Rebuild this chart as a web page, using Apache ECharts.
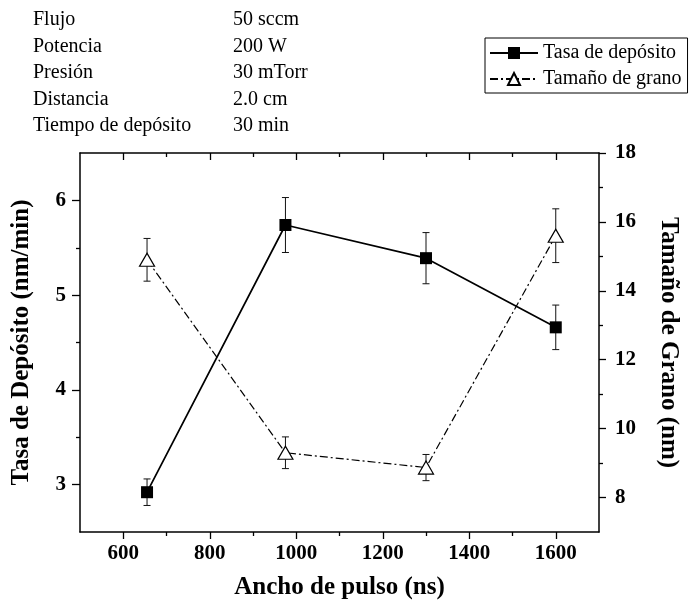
<!DOCTYPE html>
<html>
<head>
<meta charset="utf-8">
<script src="https://cdn.jsdelivr.net/npm/echarts@6/dist/echarts.min.js"></script>
<style>
  html, body { margin: 0; padding: 0; background: #fff; }
  #chart { width: 689px; height: 605px; }
</style>
</head>
<body>
<div id="chart"></div>
<script>
// Deposition conditions shown in the upper-left block
const paramNames = ['Flujo', 'Potencia', 'Presión', 'Distancia', 'Tiempo de depósito'];
const paramValues = ['50 sccm', '200 W', '30 mTorr', '2.0 cm', '30 min'];

// Pulse width (ns)
const pulseWidth = [655, 975, 1300, 1600];
// Deposition rate (nm/min) and its uncertainty
const depositRate = [2.92, 5.74, 5.39, 4.66];
const depositRateErr = [0.14, 0.29, 0.27, 0.235];
// Grain size (nm) and its uncertainty
const grainSize = [14.9, 9.3, 8.87, 15.6];
const grainSizeErr = [0.62, 0.46, 0.38, 0.78];

// Axis ticks
const xMajorTicks = [600, 800, 1000, 1200, 1400, 1600];
const xMinorTicks = [700, 900, 1100, 1300, 1500];
const rateMajorTicks = [3, 4, 5, 6];
const rateMinorTicks = [3.5, 4.5, 5.5];
const grainMajorTicks = [8, 10, 12, 14, 16, 18];
const grainMinorTicks = [9, 11, 13, 15, 17];

const FONT = 'Liberation Serif';
const INK = '#000';

const rateSeries = pulseWidth.map((x, i) => [x, depositRate[i]]);
const grainSeries = pulseWidth.map((x, i) => [x, grainSize[i]]);
const rateBars = pulseWidth.map((x, i) => [x, depositRate[i] - depositRateErr[i], depositRate[i] + depositRateErr[i]]);
const grainBars = pulseWidth.map((x, i) => [x, grainSize[i] - grainSizeErr[i], grainSize[i] + grainSizeErr[i]]);

// Vertical error bar with short caps at both ends
function errorBarItem(params, api) {
  const x = api.value(0);
  const top = api.coord([x, api.value(2)]);
  const bot = api.coord([x, api.value(1)]);
  const w = 3.5;
  const style = { stroke: '#111', lineWidth: 1 };
  return {
    type: 'group',
    children: [
      { type: 'line', shape: { x1: top[0], y1: top[1], x2: bot[0], y2: bot[1] }, style },
      { type: 'line', shape: { x1: top[0] - w, y1: top[1], x2: top[0] + w, y2: top[1] }, style },
      { type: 'line', shape: { x1: bot[0] - w, y1: bot[1], x2: bot[0] + w, y2: bot[1] }, style }
    ]
  };
}

const plainNumber = v => String(v);
const axisLine = { show: true, lineStyle: { color: INK, width: 1.5 } };
const tickLabel = { fontFamily: FONT, fontWeight: 'bold', fontSize: 21, color: INK, formatter: plainNumber };
const titleStyle = { fontFamily: FONT, fontWeight: 'bold', fontSize: 25, color: INK };

function xAxisDef(position, major, inside, withLabels, showLine) {
  return {
    type: 'value', position, min: 500, max: 1700, interval: 100,
    axisLine: showLine ? axisLine : { show: false },
    axisTick: { show: true, inside, length: major ? 7 : 4, customValues: major ? xMajorTicks : xMinorTicks,
                lineStyle: { color: INK, width: 1.3 } },
    axisLabel: withLabels ? Object.assign({ show: true, margin: 11, customValues: xMajorTicks }, tickLabel) : { show: false },
    splitLine: { show: false }
  };
}

function yAxisDef(position, min, max, interval, ticks, tickLen, withLabels, showLine, margin) {
  return {
    type: 'value', position, min, max, interval,
    axisLine: showLine ? axisLine : { show: false },
    axisTick: { show: true, inside: false, length: tickLen, customValues: ticks,
                lineStyle: { color: INK, width: 1.3 } },
    axisLabel: withLabels ? Object.assign({ show: true, margin, customValues: ticks }, tickLabel) : { show: false },
    splitLine: { show: false }
  };
}

const xAxes = [
  Object.assign(xAxisDef('bottom', true, false, true, true), {
    name: 'Ancho de pulso (ns)', nameLocation: 'middle', nameGap: 43, nameTextStyle: titleStyle
  }),
  xAxisDef('bottom', false, false, false, false),
  xAxisDef('top', true, true, false, true),
  xAxisDef('top', false, true, false, false)
];

const yAxes = [
  Object.assign(yAxisDef('left', 2.5, 6.5, 0.5, rateMajorTicks, 8, true, true, 14), {
    name: 'Tasa de Depósito (nm/min)', nameLocation: 'middle', nameGap: 46, nameRotate: 90,
    nameTextStyle: titleStyle
  }),
  yAxisDef('left', 2.5, 6.5, 0.5, rateMinorTicks, 4, false, false, 0),
  Object.assign(yAxisDef('right', 7, 18, 1, grainMajorTicks, 7, true, true, 16), {
    name: 'Tamaño de Grano (nm)', nameLocation: 'middle', nameGap: 57, nameRotate: -90,
    nameTextStyle: titleStyle
  }),
  yAxisDef('right', 7, 18, 1, grainMinorTicks, 4, false, false, 0)
];

const paramGraphics = [];
paramNames.forEach((name, i) => {
  const y = 21 + i * 26.5;
  paramGraphics.push({ type: 'text', left: 33, top: y - 11, style: { text: name, font: '20px "' + FONT + '"', fill: INK } });
  paramGraphics.push({ type: 'text', left: 233, top: y - 11, style: { text: paramValues[i], font: '20px "' + FONT + '"', fill: INK } });
});

const chart = echarts.init(document.getElementById('chart'), null, { renderer: 'canvas' });
chart.setOption({
  animation: false,
  backgroundColor: '#fff',
  grid: { left: 80, right: 82, top: 153, bottom: 73, containLabel: false },
  xAxis: xAxes,
  yAxis: yAxes,
  legend: {
    orient: 'vertical', left: 485, top: 38,
    backgroundColor: '#fff', borderColor: INK, borderWidth: 1,
    padding: [5, 6, 4, 4], itemGap: 6, itemWidth: 48, itemHeight: 15,
    textStyle: { fontFamily: FONT, fontSize: 20, color: INK },
    data: ['Tasa de depósito', 'Tamaño de grano']
  },
  graphic: paramGraphics,
  series: [
    {
      type: 'custom', name: 'rateErr', xAxisIndex: 0, yAxisIndex: 0,
      renderItem: errorBarItem, data: rateBars, encode: { x: 0, y: [1, 2] }, z: 2, silent: true
    },
    {
      type: 'custom', name: 'grainErr', xAxisIndex: 0, yAxisIndex: 2,
      renderItem: errorBarItem, data: grainBars, encode: { x: 0, y: [1, 2] }, z: 2, silent: true
    },
    {
      type: 'line', name: 'Tamaño de grano', xAxisIndex: 0, yAxisIndex: 2,
      data: grainSeries, symbol: 'triangle', symbolSize: [15, 13],
      lineStyle: { color: INK, width: 1.2, type: [8, 3, 2, 3] },
      itemStyle: { color: '#fff', borderColor: INK, borderWidth: 1.2 },
      z: 3
    },
    {
      type: 'line', name: 'Tasa de depósito', xAxisIndex: 0, yAxisIndex: 0,
      data: rateSeries, symbol: 'rect', symbolSize: 12,
      lineStyle: { color: INK, width: 1.7, type: 'solid' },
      itemStyle: { color: INK, borderColor: INK, borderWidth: 0 },
      z: 4
    }
  ]
});
</script>
</body>
</html>
